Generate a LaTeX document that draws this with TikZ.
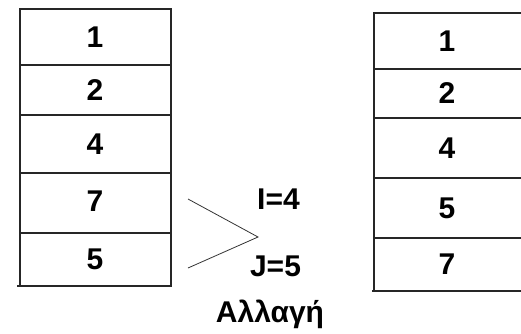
\documentclass[tikz,border=0pt]{standalone}
\usepackage{fontspec}
\setmainfont{Liberation Sans}
\begin{document}
\begin{tikzpicture}[x=1pt,y=-1pt,
  cellline/.style={line width=1.5pt,black!85},
  val/.style={font=\fontsize{30}{30}\selectfont\bfseries,inner sep=0pt,anchor=center},
  lbl/.style={font=\fontsize{30}{30}\selectfont\bfseries,inner sep=0pt},
  brace/.style={line width=0.8pt,black!80}]
\useasboundingbox (0,0) rectangle (521,333);
\clip (0,0) rectangle (521,333);
% left column
\draw[cellline] (20,9) rectangle (171,286);
\foreach \yy in {65,115,173,233} \draw[cellline] (20,\yy) -- (171,\yy);
\draw[cellline] (17,286) -- (172,286);
\node[val] (a1) at (95,37.5) {1};
\node[val] (a2) at (95,90) {2};
\node[val] (a3) at (95,144) {4};
\node[val] (a4) at (95,201) {7};
\node[val] (a5) at (95,259.5) {5};
% right column (open at the far edge)
\draw[cellline] (530,13) -- (374,13) -- (374,291) -- (530,291);
\foreach \yy in {69,118,178,238} \draw[cellline] (374,\yy) -- (530,\yy);
\draw[cellline] (372,291) -- (374,291);
\node[val] (b1) at (447,41) {1};
\node[val] (b2) at (447,93.5) {2};
\node[val] (b3) at (447,148) {4};
\node[val] (b4) at (447,208) {5};
\node[val] (b5) at (447,264.5) {7};
% swap marker
\coordinate (up) at (188,199);
\coordinate (tip) at (258,237);
\coordinate (dn) at (188,268);
\draw[brace] (up) -- (tip) -- (dn);
\node[lbl,anchor=center] (ii) at (278.5,199) {I=4};
\node[lbl,anchor=center] (jj) at (275.5,266) {J=5};
\node[lbl,anchor=base] (sw) at (270,322) {Αλλαγή};
\end{tikzpicture}
\end{document}
